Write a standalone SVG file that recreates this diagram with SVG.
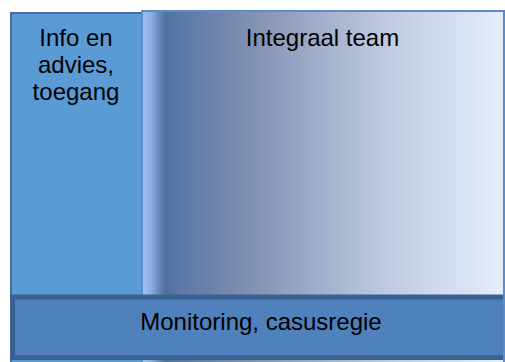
<svg xmlns="http://www.w3.org/2000/svg" width="505" height="362" viewBox="0 0 505 362">
<defs>
<linearGradient id="gTeam" x1="0" y1="0" x2="1" y2="0">
<stop offset="0" stop-color="#a3c0f2"/>
<stop offset="0.025" stop-color="#8eaee4"/>
<stop offset="0.045" stop-color="#6a89bd"/>
<stop offset="0.065" stop-color="#52709f"/>
<stop offset="0.1" stop-color="#5a77a5"/>
<stop offset="0.3" stop-color="#8191b1"/>
<stop offset="0.65" stop-color="#bac7df"/>
<stop offset="1" stop-color="#e6eefc"/>
</linearGradient>
<clipPath id="cBar"><rect x="0" y="0" width="503" height="362"/></clipPath>
<style>
.lbl{font-family:"Liberation Sans",Arial,sans-serif;font-size:24px;fill:#000;text-anchor:middle}
</style>
</defs>
<g id="node-info">
<rect x="11" y="13" width="131" height="360" fill="#5b9bd5" stroke="#41719c" stroke-width="2"/>
<text class="lbl" x="76" y="46">Info en</text>
<text class="lbl" x="76" y="73">advies,</text>
<text class="lbl" x="76" y="100">toegang</text>
</g>
<g id="node-team">
<rect x="142" y="11" width="362" height="362" fill="url(#gTeam)" stroke="#5b8bc9" stroke-width="2"/>
<text class="lbl" x="322.5" y="46">Integraal team</text>
</g>
<g id="node-monitoring" clip-path="url(#cBar)">
<rect x="12.5" y="297" width="496" height="60.5" fill="#4f81bd" stroke="#3a6190" stroke-width="5"/>
<text class="lbl" x="261" y="330">Monitoring, casusregie</text>
</g>
<g id="connectors"/>
</svg>
